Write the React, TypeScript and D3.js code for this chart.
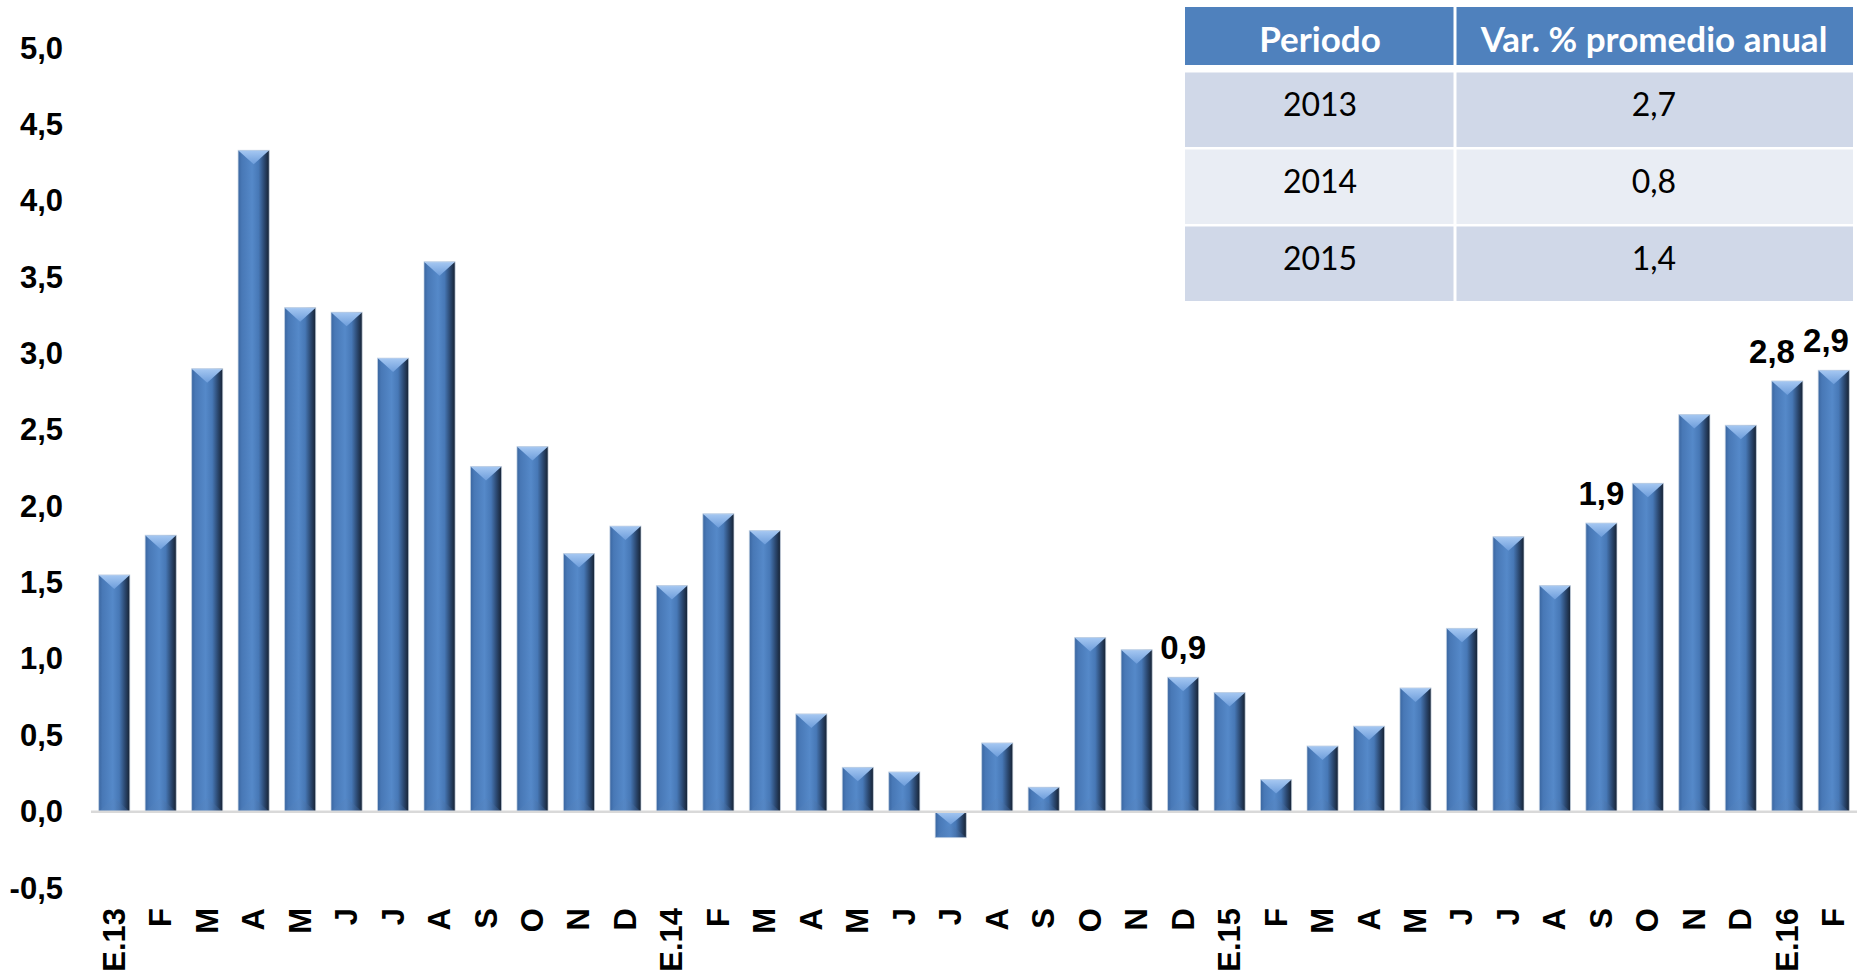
import React, { useEffect } from "react";
import * as d3 from "d3";

const categories = [
  "E.13", "F", "M", "A", "M", "J", "J", "A", "S", "O", "N", "D",
  "E.14", "F", "M", "A", "M", "J", "J", "A", "S", "O", "N", "D",
  "E.15", "F", "M", "A", "M", "J", "J", "A", "S", "O", "N", "D",
  "E.16", "F",
];

const values = [
  1.55, 1.81, 2.9, 4.33, 3.3, 3.27, 2.97, 3.6, 2.26, 2.39, 1.69, 1.87,
  1.48, 1.95, 1.84, 0.64, 0.29, 0.26, -0.17, 0.45, 0.16, 1.14, 1.06, 0.88,
  0.78, 0.21, 0.43, 0.56, 0.81, 1.2, 1.8, 1.48, 1.89, 2.15, 2.6, 2.53,
  2.82, 2.89,
];

const labeledIndices = [23, 32, 36, 37];

const yTicks = [-0.5, 0, 0.5, 1, 1.5, 2, 2.5, 3, 3.5, 4, 4.5, 5];

const tableHeaders = ["Periodo", "Var. % promedio anual"];
const tablePeriods = ["2013", "2014", "2015"];
const tableValues = ["2,7", "0,8", "1,4"];

const W = 1860;
const H = 974;
const fmt = (v: number) =>
  d3.format(".1f")(v).replace(".", ",").replace("\u2212", "-");

export default function App() {
  useEffect(() => {
    document.body.style.margin = "0";
  }, []);

  const x = d3
    .scaleBand<number>()
    .domain(categories.map((_, i) => i))
    .range([91, 1857])
    .paddingInner(0.33)
    .paddingOuter(0.165);
  const y = d3.scaleLinear().domain([-0.5, 5]).range([888, 48]);
  const bw = x.bandwidth();

  // data label placement: centered on bar, kept inside the chart and apart from each other
  const labelW = 44;
  const labelGap = 10;
  const labelPos = labeledIndices.map((i) => ({
    i,
    cx: x(i)! + bw / 2,
  }));
  for (let k = labelPos.length - 1; k >= 0; k--) {
    const maxRight =
      k === labelPos.length - 1
        ? W - 12
        : labelPos[k + 1].cx - labelW / 2 - labelGap;
    if (labelPos[k].cx + labelW / 2 > maxRight) {
      labelPos[k].cx = maxRight - labelW / 2;
    }
  }

  // table layout
  const colX = [1185, 1455, 1853];
  const headerTop = 7;
  const headerH = 58;
  const rowTop0 = 72.5;
  const rowH = 74.5;
  const rowGap = 2.5;
  const rowFills = ["#D0D8E8", "#E9EDF4", "#D0D8E8"];

  return (
    <svg
      width={W}
      height={H}
      style={{ position: "absolute", left: 0, top: 0, background: "#fff" }}
    >
      <defs>
        <linearGradient id="barH" x1="0" x2="1" y1="0" y2="0">
          <stop offset="0" stopColor="#3A66A0" />
          <stop offset="0.12" stopColor="#4878B6" />
          <stop offset="0.45" stopColor="#5589C9" />
          <stop offset="0.66" stopColor="#4778B6" />
          <stop offset="0.84" stopColor="#2B4870" />
          <stop offset="1" stopColor="#162233" />
        </linearGradient>
        <linearGradient id="bevTop" x1="0" x2="0" y1="0" y2="1">
          <stop offset="0" stopColor="#A6C8F2" />
          <stop offset="1" stopColor="#6D9DDB" />
        </linearGradient>
        <linearGradient id="bevBot" x1="0" x2="1" y1="0" y2="0">
          <stop offset="0" stopColor="#4E7CB6" />
          <stop offset="0.5" stopColor="#5585C2" />
          <stop offset="1" stopColor="#2F4D78" />
        </linearGradient>
      </defs>

      {/* y tick labels */}
      {yTicks.map((t) => (
        <text
          key={t}
          x={63}
          y={y(t)}
          textAnchor="end"
          dominantBaseline="central"
          fontFamily="Liberation Sans, Arial, sans-serif"
          fontWeight="bold"
          fontSize={31}
          fill="#000"
        >
          {fmt(t)}
        </text>
      ))}

      {/* bars */}
      {values.map((v, i) => {
        const x0 = x(i)!;
        const x1 = x0 + bw;
        const cx = x0 + bw / 2;
        const top = Math.min(y(v), y(0));
        const bot = Math.max(y(v), y(0));
        const h = bot - top;
        const d = Math.min(bw / 2, h / 2, 14);
        return (
          <g key={i}>
            <rect x={x0} y={top} width={bw} height={h} fill="url(#barH)" />
            <polygon
              points={`${x0},${bot} ${x1},${bot} ${cx},${bot - d}`}
              fill="url(#bevBot)"
              opacity={0.55}
            />
            <polygon
              points={`${x0},${top} ${x1},${top} ${cx},${top + d}`}
              fill="url(#bevTop)"
            />
            <rect
              x={x0}
              y={top}
              width={bw}
              height={h}
              fill="none"
              stroke="#C9D5E6"
              strokeWidth={1}
              opacity={0.7}
            />
          </g>
        );
      })}

      {/* zero axis line */}
      <line
        x1={91}
        x2={1857}
        y1={y(0)}
        y2={y(0)}
        stroke="#D9D9D9"
        strokeWidth={2.5}
      />

      {/* x labels */}
      {categories.map((c, i) => {
        const cx = x(i)! + bw / 2;
        return (
          <text
            key={i}
            transform={`translate(${cx},908) rotate(-90)`}
            textAnchor="end"
            dominantBaseline="central"
            fontFamily="Liberation Sans, Arial, sans-serif"
            fontWeight="bold"
            fontSize={31}
            fill="#000"
          >
            {c}
          </text>
        );
      })}

      {/* data labels */}
      {labelPos.map(({ i, cx }) => (
        <text
          key={i}
          x={cx}
          y={y(values[i]) - 18}
          textAnchor="middle"
          fontFamily="Liberation Sans, Arial, sans-serif"
          fontWeight="bold"
          fontSize={33}
          fill="#000"
        >
          {fmt(values[i])}
        </text>
      ))}

      {/* table */}
      <g fontFamily="Lato, 'Open Sans', sans-serif">
        {tableHeaders.map((hd, c) => (
          <g key={hd}>
            <rect
              x={colX[c] + (c > 0 ? 1.5 : 0)}
              y={headerTop}
              width={colX[c + 1] - colX[c] - 1.5}
              height={headerH}
              fill="#4F81BD"
            />
            <text
              x={(colX[c] + colX[c + 1]) / 2}
              y={headerTop + headerH / 2 + 2}
              textAnchor="middle"
              dominantBaseline="central"
              fontWeight="bold"
              fontSize={35}
              fill="#fff"
            >
              {hd}
            </text>
          </g>
        ))}
        {tablePeriods.map((p, r) => {
          const ty = rowTop0 + r * (rowH + rowGap);
          const cells = [p, tableValues[r]];
          return (
            <g key={p}>
              {cells.map((txt, c) => (
                <g key={c}>
                  <rect
                    x={colX[c] + (c > 0 ? 1.5 : 0)}
                    y={ty}
                    width={colX[c + 1] - colX[c] - 1.5}
                    height={rowH}
                    fill={rowFills[r]}
                  />
                  <text
                    x={(colX[c] + colX[c + 1]) / 2}
                    y={ty + rowH / 2 - 6}
                    textAnchor="middle"
                    dominantBaseline="central"
                    fontSize={32}
                    fill="#000"
                  >
                    {txt}
                  </text>
                </g>
              ))}
            </g>
          );
        })}
      </g>
    </svg>
  );
}
